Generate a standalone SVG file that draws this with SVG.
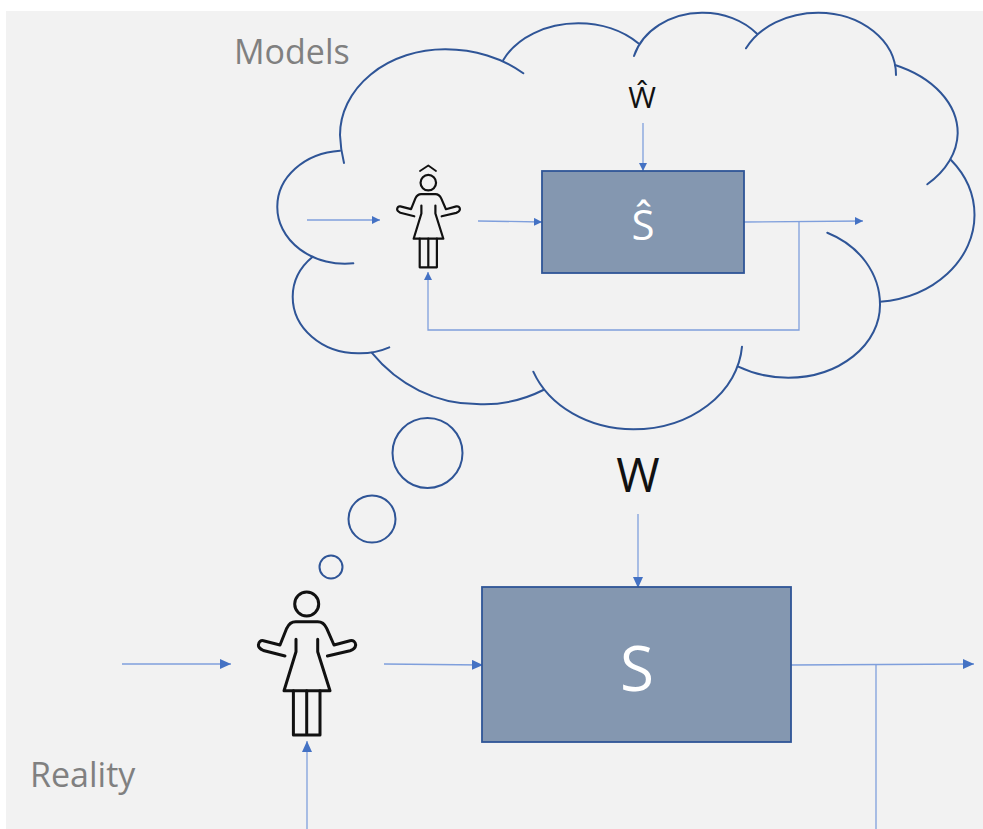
<svg xmlns="http://www.w3.org/2000/svg" width="983" height="829" viewBox="0 0 983 829">
<style>
text{font-family:"Open Sans","Liberation Sans",sans-serif}
.cloud{fill:none;stroke:#2f5597;stroke-width:2;stroke-linecap:round}
.bub{fill:none;stroke:#2f5597;stroke-width:2}
.box{fill:#8497b0;stroke:#2f5597;stroke-width:1.8}
.c{fill:none;stroke:#7f9fdc;stroke-width:1.3}
.p{fill:none;stroke:#111;stroke-width:3;stroke-linejoin:round;stroke-linecap:round}
.gray{fill:#808080;font-size:34px}
.m{text-anchor:middle}
</style>
<defs>
<marker id="a" markerUnits="userSpaceOnUse" markerWidth="12" markerHeight="12" refX="11" refY="5" orient="auto"><path d="M0 0L11 5L0 10Z" fill="#4472c4"/></marker>
<marker id="s" markerUnits="userSpaceOnUse" markerWidth="9" markerHeight="9" refX="8" refY="4" orient="auto"><path d="M0 0L8 4L0 8Z" fill="#4472c4"/></marker>
<g id="person">
<circle cx="0" cy="0" r="12"/>
<path d="M-21.7 52L-43.3 46.5Q-48.5 44-48.3 41Q-47.5 36-43.3 36.7L-26.7 41L-20 24.3Q-17 17.7-11 17.7H11Q17 17.7 20 24.3L27.3 41L43.3 36.7Q48.5 36 49 41Q48.5 45 43.3 46.7L20.7 52"/>
<path d="M-10.7 35.3V47.7L-22.7 86.7H23.3L11 47.7V35.3"/>
<path d="M-13.3 86.7V131H13.3V86.7M0 86.7V131"/>
</g>
</defs>
<rect width="983" height="829" fill="#fff"/>
<rect x="6" y="11" width="977" height="818" fill="#f2f2f2"/>
<text class="gray" x="234" y="64">Models</text>
<text class="gray" x="30" y="787">Reality</text>
<g id="cloud">
<path class="cloud" d="M344 163Q340.5 149 340 135A105 85.7 0 0 1 445 49.3A112 85.7 0 0 1 523.3 73.3"/>
<path class="cloud" d="M503.3 60A82 61.7 0 0 1 578.3 23.3A81.4 61.7 0 0 1 638.3 43.3"/>
<path class="cloud" d="M634 56A71 59.3 0 0 1 701.7 12.7A71 59.3 0 0 1 757.3 34"/>
<path class="cloud" d="M746 48.3A80 62.3 0 0 1 818.3 12.7A78 62.3 0 0 1 896 75"/>
<path class="cloud" d="M895 65A108 75 0 0 1 957.7 133.3A108 75 0 0 1 927.3 184.3"/>
<path class="cloud" d="M951 160A104 87 0 0 1 974.5 215A104 87 0 0 1 880 301.7"/>
<path class="cloud" d="M827.3 232.7A90 79 0 0 1 880 305A91.7 72.7 0 0 1 788.3 377.7A95 72.7 0 0 1 738.3 366.7"/>
<path class="cloud" d="M742 346.7A109 89 0 0 1 633.3 429.3A107 89 0 0 1 533.3 371.7"/>
<path class="cloud" d="M543.3 390A140 151 0 0 1 476.7 404A140 151 0 0 1 371.7 352.7"/>
<path class="cloud" d="M389.3 347.3A65.3 56.6 0 0 1 358 353.3A65.3 56.6 0 0 1 292.7 296.7A65.3 55.6 0 0 1 312.7 256.7"/>
<path class="cloud" d="M353.3 263.3A67.7 56.6 0 0 1 277.3 206.7A67.7 56 0 0 1 340 150.7"/>
</g>
<g id="thought-bubbles">
<circle class="bub" cx="427.5" cy="453" r="35"/>
<circle class="bub" cx="372" cy="519" r="23.5"/>
<circle class="bub" cx="331" cy="567" r="11.5"/>
</g>
<g id="connectors">
<path class="c" marker-end="url(#s)" d="M643 123V171"/>
<path class="c" marker-end="url(#s)" d="M307 220H380"/>
<path class="c" marker-end="url(#s)" d="M478 221L542 222"/>
<path class="c" marker-end="url(#s)" d="M744 222L863 221"/>
<path class="c" marker-end="url(#s)" d="M799 222V330H428V272"/>
<path class="c" marker-end="url(#a)" d="M638 514V588"/>
<path class="c" marker-end="url(#a)" d="M122 664H231"/>
<path class="c" marker-end="url(#a)" d="M384 664L483 665"/>
<path class="c" marker-end="url(#a)" d="M791 665L974 664"/>
<path class="c" d="M876 665V829"/>
<path class="c" marker-end="url(#a)" d="M307 829V741"/>
</g>
<g id="model-person">
<use href="#person" class="p" transform="translate(428.3 182.7) scale(.646)" style="stroke-width:3.4"/>
<path class="p" style="stroke-width:1.8" d="M420 171L428.3 165.5L436 171"/>
</g>
<g id="reality-person"><use href="#person" class="p" transform="translate(306.7 604)"/></g>
<g id="model-system">
<rect class="box" x="542" y="171" width="202" height="102"/>
<text class="m" x="643" y="240" font-size="42" fill="#fff">Ŝ</text>
</g>
<g id="reality-system">
<rect class="box" x="482" y="587" width="309" height="155"/>
<text class="m" x="637" y="691" font-size="62" fill="#fff">S</text>
</g>
<g id="model-disturbance"><text class="m" x="642" y="108" font-size="30" fill="#111">Ŵ</text></g>
<g id="reality-disturbance"><text class="m" x="638" y="492" font-size="47" fill="#111">W</text></g>
</svg>
